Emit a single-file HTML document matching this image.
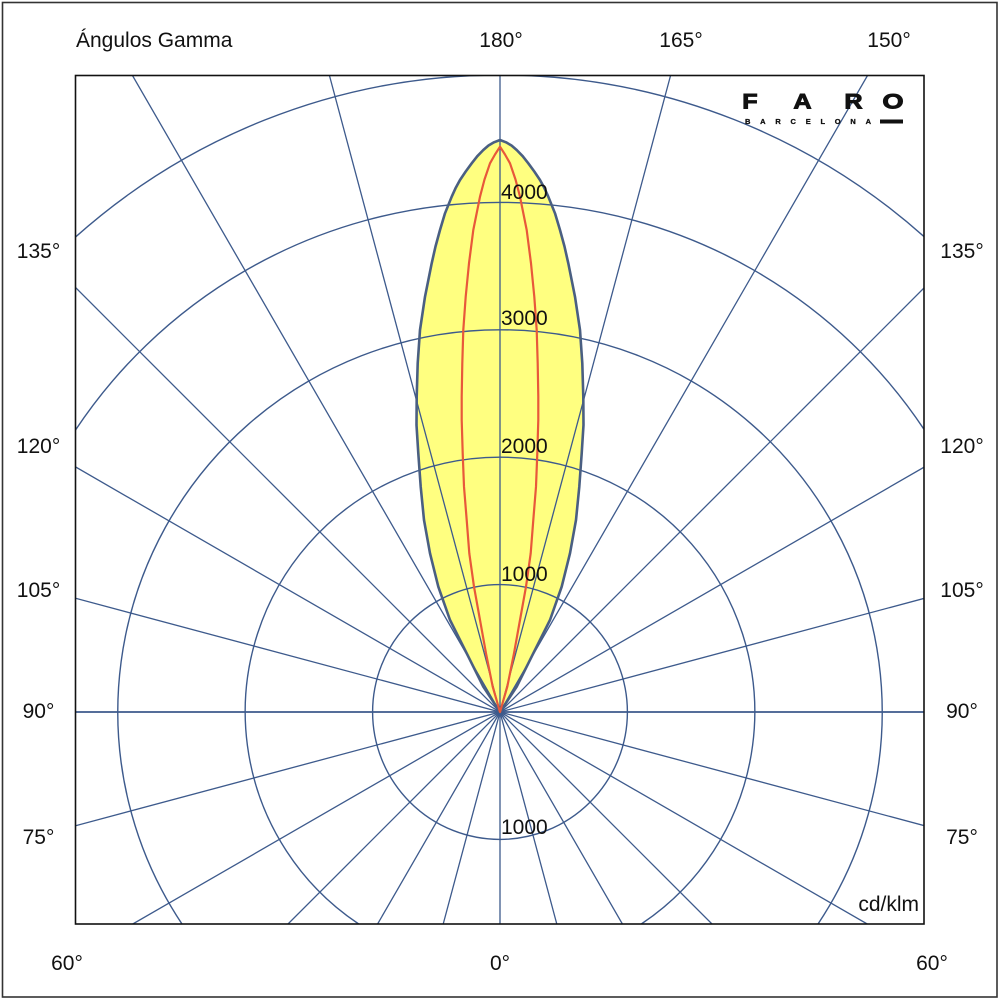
<!DOCTYPE html>
<html>
<head>
<meta charset="utf-8">
<style>
  html, body { margin: 0; padding: 0; background: #ffffff; width: 1000px; height: 1000px; overflow: hidden; }
  svg { display: block; overflow: hidden; }
  text { font-family: "Liberation Sans", Arial, sans-serif; fill: #111; }
</style>
</head>
<body>
<svg width="1000" height="1000" viewBox="0 0 1000 1000" xmlns="http://www.w3.org/2000/svg">
  <defs>
    <clipPath id="plot">
      <rect x="75" y="75" width="849" height="849"/>
    </clipPath>
    <path id="lobe" d="
      M500,140 L506,142.3 L511.5,145.5 L516.7,150 L522.7,156.2 L528.3,163.3 L534.3,171.5 L540,180 L544.5,188.3 L548.3,196.7 L555,213.3 L560,230 L564.5,246.5 L568.3,263.3 L575,296.7 L580,330 L582.3,363.3 L583.3,396.7 L583.5,425 L581.7,453.3 L579.3,486.7 L576,520 L570,553.3 L561.7,586.7 L550,620 L533.3,653.3 L516.7,686.7 L500,712
      L483.3,686.7 L466.7,653.3 L450,620 L438.3,586.7 L430,553.3 L424,520 L420.7,486.7 L418.3,453.3 L416.5,425 L416.7,396.7 L417.7,363.3 L420,330 L425,296.7 L431.7,263.3 L435.5,246.5 L440,230 L445,213.3 L451.7,196.7 L455.5,188.3 L460,180 L465.7,171.5 L471.7,163.3 L477.3,156.2 L483.3,150 L488.5,145.5 L494,142.3 Z"/>
  </defs>
  <rect x="0" y="0" width="1000" height="1000" fill="#ffffff"/>
  <!-- outer border -->
  <rect x="2.5" y="2.5" width="994.5" height="994.5" fill="none" stroke="#333" stroke-width="1.6"/>

  <g clip-path="url(#plot)">
    <use href="#lobe" fill="#ffff80" stroke="none"/>

    <!-- grid circles (clipped to plot area) -->
    <g fill="none" stroke="#3d5a8c" stroke-width="1.4">
      <circle cx="500" cy="712" r="127.4"/>
      <path d="M358.7,924 A254.8,254.8 0 1 1 641.3,924"/>
      <path d="M182,924 A382.2,382.2 0 1 1 818,924"/>
      <path d="M75,430.8 A509.6,509.6 0 0 1 924,429.3"/>
      <path d="M75,237.5 A637,637 0 0 1 924,236.6"/>
    </g>
    <!-- radial lines (clipped to plot area) -->
    <g stroke="#3d5a8c" stroke-width="1.3">
      <line x1="500" y1="75" x2="500" y2="924"/>
      <line x1="329.3" y1="75" x2="556.8" y2="924"/>
      <line x1="132.2" y1="75" x2="622.4" y2="924"/>
      <line x1="75" y1="287" x2="712" y2="924"/>
      <line x1="75" y1="466.6" x2="867.2" y2="924"/>
      <line x1="75" y1="598.1" x2="924" y2="825.6"/>
      <line x1="75" y1="712" x2="924" y2="712" stroke-width="1.7"/>
      <line x1="75" y1="825.9" x2="924" y2="598.4"/>
      <line x1="132.8" y1="924" x2="924" y2="467.2"/>
      <line x1="288" y1="924" x2="924" y2="288"/>
      <line x1="377.6" y1="924" x2="867.8" y2="75"/>
      <line x1="443.2" y1="924" x2="670.7" y2="75"/>
    </g>
    <circle cx="500" cy="712" r="4" fill="#3d5a8c"/>

    <!-- outline -->
    <use href="#lobe" fill="none" stroke="#4a5f82" stroke-width="2.6" stroke-linejoin="round"/>

    <!-- red curve -->
    <path fill="none" stroke="#e8583a" stroke-width="2.2" stroke-linejoin="round" d="
      M500,146.7 L505,154.5 L510,163.3 L515.5,179.5 L520,196.7 L526.7,230 L531,263.3 L534.3,296.7 L536.7,330 L537.7,363.3 L538.3,396.7 L538.3,420 L537.3,453.3 L536,486.7 L533.3,520 L530.7,553.3 L526,586.7 L520,620 L514,653.3 L507.3,686.7 L500,712
      L492.7,686.7 L486,653.3 L480,620 L474,586.7 L469.3,553.3 L466.7,520 L464,486.7 L462.7,453.3 L461.7,420 L461.7,396.7 L462.3,363.3 L463.3,330 L465.7,296.7 L469,263.3 L473.3,230 L480,196.7 L484.5,179.5 L490,163.3 L495,154.5 Z"/>
  </g>

  <!-- plot border -->
  <rect x="75.5" y="75.5" width="848.5" height="848.5" fill="none" stroke="#111" stroke-width="1.6"/>

  <!-- FARO logo -->
  <g font-weight="bold" font-size="21" stroke="#111" stroke-width="0.9">
    <text x="750" y="108.5" text-anchor="middle" transform="translate(750,0) scale(1.2,1) translate(-750,0)">F</text>
    <text x="802.5" y="108.5" text-anchor="middle" transform="translate(802.5,0) scale(1.2,1) translate(-802.5,0)">A</text>
    <text x="853.5" y="108.5" text-anchor="middle" transform="translate(853.5,0) scale(1.2,1) translate(-853.5,0)">R</text>
    <text x="893" y="108.5" text-anchor="middle" transform="translate(893,0) scale(1.3,1) translate(-893,0)">O</text>
  </g>
  <text x="745" y="124" font-size="7.5" font-weight="bold" stroke="#111" stroke-width="0.3" textLength="126" lengthAdjust="spacing">BARCELONA</text>
  <rect x="880" y="119.5" width="23" height="4" fill="#111"/>

  <!-- labels -->
  <g font-size="21">
    <text x="76" y="47">Ángulos Gamma</text>
    <text x="501" y="47" text-anchor="middle">180°</text>
    <text x="681" y="47" text-anchor="middle">165°</text>
    <text x="889" y="47" text-anchor="middle">150°</text>

    <text x="38.5" y="258" text-anchor="middle">135°</text>
    <text x="38.5" y="453" text-anchor="middle">120°</text>
    <text x="38.5" y="597" text-anchor="middle">105°</text>
    <text x="38.5" y="718" text-anchor="middle">90°</text>
    <text x="38.5" y="844" text-anchor="middle">75°</text>

    <text x="962" y="258" text-anchor="middle">135°</text>
    <text x="962" y="453" text-anchor="middle">120°</text>
    <text x="962" y="597" text-anchor="middle">105°</text>
    <text x="962" y="718" text-anchor="middle">90°</text>
    <text x="962" y="844" text-anchor="middle">75°</text>

    <text x="67" y="970" text-anchor="middle">60°</text>
    <text x="500" y="970" text-anchor="middle">0°</text>
    <text x="932" y="970" text-anchor="middle">60°</text>

    <text x="919" y="911" text-anchor="end">cd/klm</text>

    <text x="501" y="199">4000</text>
    <text x="501" y="325">3000</text>
    <text x="501" y="453">2000</text>
    <text x="501" y="581">1000</text>
    <text x="501" y="834">1000</text>
  </g>
</svg>
</body>
</html>
